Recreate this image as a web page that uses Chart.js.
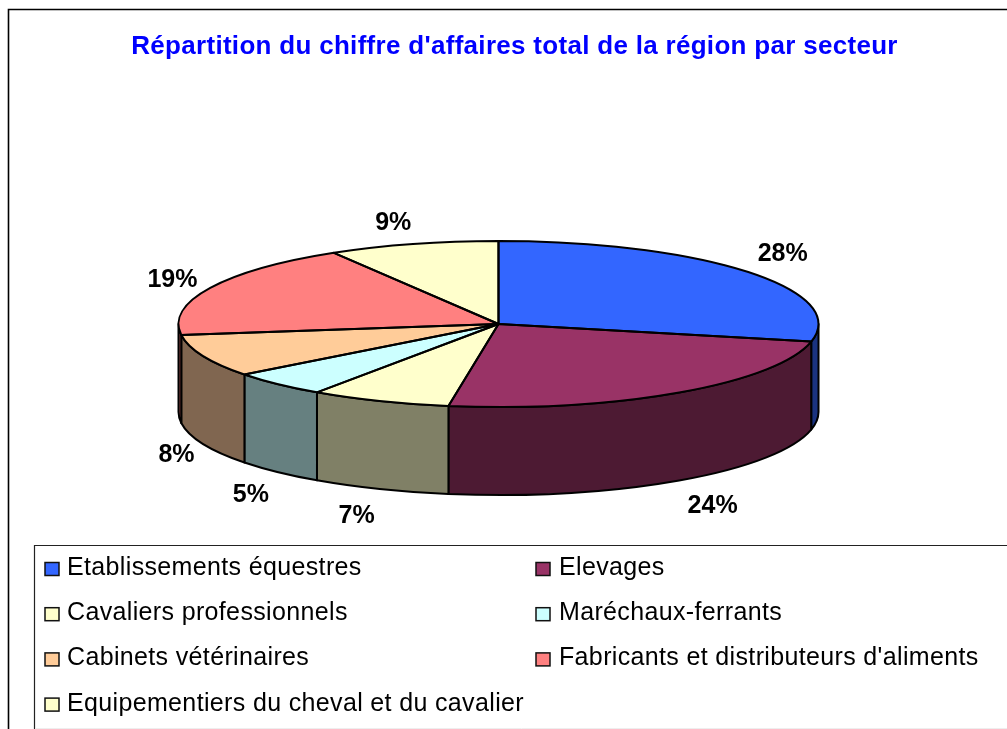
<!DOCTYPE html>
<html lang="fr">
<head>
<meta charset="utf-8">
<title>Répartition du chiffre d'affaires</title>
<script src="https://cdn.jsdelivr.net/npm/chart.js@4/dist/chart.umd.min.js"></script>
<style>html,body{margin:0;padding:0;background:#fff;overflow:hidden}canvas{display:block}</style>
</head>
<body>
<canvas id="c" width="1007" height="729"></canvas>
<script>
const chartTitle = "Répartition du chiffre d'affaires total de la région par secteur";
const categories = ["Etablissements équestres","Elevages","Cavaliers professionnels","Maréchaux-ferrants","Cabinets vétérinaires","Fabricants et distributeurs d'aliments","Equipementiers du cheval et du cavalier"];
const shares = [28.4,24.1,7.1,5.0,8.3,18.5,8.6];
const topColors = ["#3366FF","#993366","#FFFFCC","#CCFFFF","#FFCC99","#FF8080","#FFFFCC"];
const sideColors = ["#1A3380","#4D1A33","#808066","#668080","#806650","#804040","#808066"];

const PIE = {cx:498.5, cy:324, rx:320, ry:83, depth:88};
const NUDGE_X = [4,7,-1,2,8,-4,0];
const NUDGE_Y = [0,4,4,3,-3,7,3];
const FONT = '"Liberation Sans", Arial, sans-serif';

const pie3d = {
  id:'pie3d',
  beforeDraw(chart){
    const c = chart.ctx;
    c.save();
    c.fillStyle='#fff'; c.fillRect(0,0,chart.width,chart.height);
    c.strokeStyle='#000'; c.lineWidth=1.6;
    c.beginPath(); c.moveTo(8.5,729); c.lineTo(8.5,9.5); c.lineTo(1007,9.5); c.stroke();
    c.restore();
    c.letterSpacing='0.3px';
  },
  beforeDatasetsDraw(chart){
    const c = chart.ctx, m = chart.getDatasetMeta(0), P = PIE;
    c.letterSpacing='0px';
    c.save();
    c.lineWidth=2; c.strokeStyle='#000'; c.lineJoin='round';
    m.data.forEach((a,i)=>{
      const s = Math.max(a.startAngle,0), e = Math.min(a.endAngle,Math.PI);
      if(e<=s) return;
      c.beginPath();
      c.ellipse(P.cx,P.cy,P.rx,P.ry,0,s,e);
      c.ellipse(P.cx,P.cy+P.depth,P.rx,P.ry,0,e,s,true);
      c.closePath();
      c.fillStyle=sideColors[i]; c.fill(); c.stroke();
    });
    c.restore();
    c.save();
    const a0 = m.data[0];
    c.translate(P.cx,P.cy);
    c.scale(P.rx/a0.outerRadius,P.ry/a0.outerRadius);
    c.translate(-a0.x,-a0.y);
  },
  afterDatasetsDraw(chart){
    const c = chart.ctx, m = chart.getDatasetMeta(0), P = PIE;
    c.restore();
    c.save();
    c.lineWidth=2; c.strokeStyle='#000'; c.lineJoin='round';
    m.data.forEach(a=>{
      c.beginPath();
      c.moveTo(P.cx,P.cy);
      c.ellipse(P.cx,P.cy,P.rx,P.ry,0,a.startAngle,a.endAngle);
      c.closePath();
      c.stroke();
    });
    const total = shares.reduce((x,y)=>x+y,0);
    c.font='bold 25px '+FONT; c.fillStyle='#000'; c.textAlign='center'; c.textBaseline='middle';
    m.data.forEach((a,i)=>{
      const t=(a.startAngle+a.endAngle)/2, cs=Math.cos(t), sn=Math.sin(t);
      const x=P.cx+P.rx*cs+22*cs+Math.sign(cs)*14+NUDGE_X[i];
      const y=P.cy+P.ry*sn+(sn>0?P.depth:0)+16*sn+Math.sign(sn)*8+NUDGE_Y[i];
      c.fillText(Math.round(shares[i]/total*100)+'%',x,y);
    });
    c.restore();
    // legend
    c.save();
    c.strokeStyle='#222'; c.lineWidth=1.2;
    c.beginPath(); c.moveTo(34.5,729); c.lineTo(34.5,545.5); c.lineTo(1007,545.5); c.stroke();
    c.strokeStyle='#eee'; c.lineWidth=1;
    c.beginPath(); c.moveTo(36,728.5); c.lineTo(1007,728.5); c.stroke();
    c.font='25px '+FONT; c.textAlign='left'; c.textBaseline='alphabetic';
    c.letterSpacing='0.35px';
    categories.forEach((name,i)=>{
      const col=i%2, row=Math.floor(i/2);
      const sx=col?536:45, sy=562.5+row*45.2;
      c.fillStyle=topColors[i]; c.fillRect(sx,sy,14,13);
      c.strokeStyle='#111'; c.lineWidth=1.5; c.strokeRect(sx,sy,14,13);
      c.fillStyle='#000';
      c.fillText(name,col?559:67,575+row*45.2);
    });
    c.letterSpacing='0px';
    c.restore();
  }
};

new Chart(document.getElementById('c'),{
  type:'pie',
  data:{labels:categories,datasets:[{data:shares,backgroundColor:topColors,borderWidth:0}]},
  options:{
    responsive:false,animation:false,
    layout:{padding:{left:22,right:0,top:0,bottom:0}},
    plugins:{
      legend:{display:false},tooltip:{enabled:false},
      title:{display:true,text:chartTitle,color:'#0000FF',font:{family:FONT,size:26,weight:'bold'},padding:{top:31,bottom:10}}
    }
  },
  plugins:[pie3d]
});
</script>
</body>
</html>
